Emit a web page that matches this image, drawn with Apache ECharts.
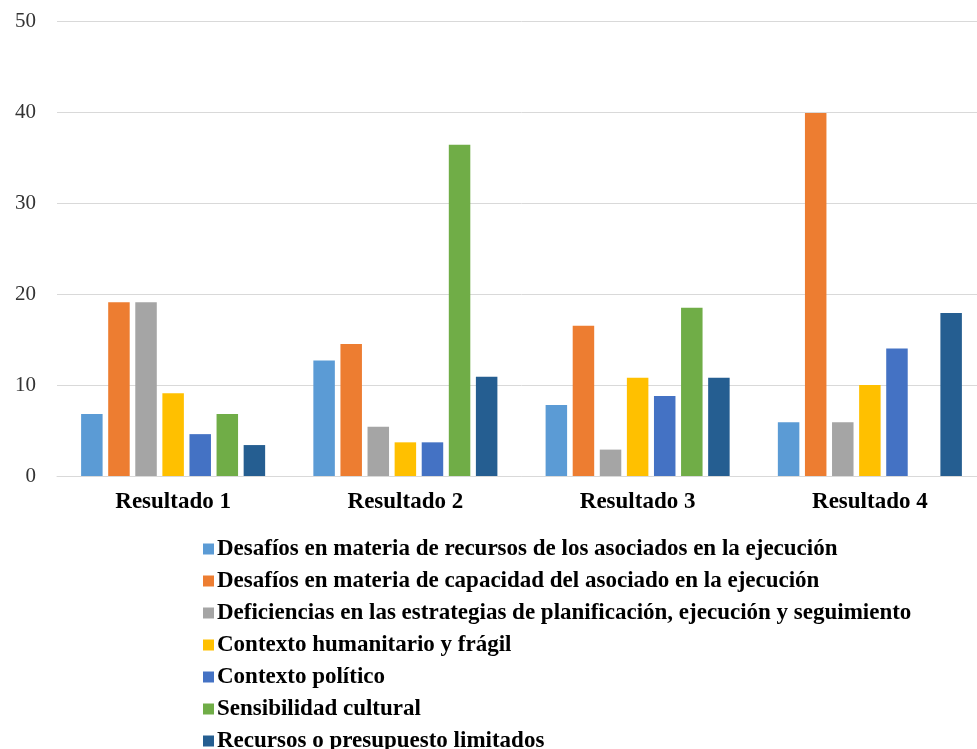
<!DOCTYPE html>
<html>
<head>
<meta charset="utf-8">
<script src="https://cdn.jsdelivr.net/npm/echarts@6/dist/echarts.min.js"></script>
<style>
  html, body { margin: 0; padding: 0; background: #fff; overflow: hidden; }
  #chart { width: 990px; height: 760px; }
</style>
</head>
<body>
<div id="chart"></div>
<script>
// categorías del eje x
const categories = ["Resultado 1", "Resultado 2", "Resultado 3", "Resultado 4"];

// valores por serie
const recursosAsociados = [6.8, 12.7, 7.8, 5.9];
const capacidadAsociado = [19.1, 14.5, 16.5, 39.9];
const deficiencias = [19.1, 5.4, 2.9, 5.9];
const humanitario = [9.1, 3.7, 10.8, 10.0];
const politico = [4.6, 3.7, 8.8, 14.0];
const sensibilidad = [6.8, 36.4, 18.5, 0];
const presupuesto = [3.4, 10.9, 10.8, 17.9];

const seriesNames = [
  "Desafíos en materia de recursos de los asociados en la ejecución",
  "Desafíos en materia de capacidad del asociado en la ejecución",
  "Deficiencias en las estrategias de planificación, ejecución y seguimiento",
  "Contexto humanitario y frágil",
  "Contexto político",
  "Sensibilidad cultural",
  "Recursos o presupuesto limitados",
];
const seriesData = [recursosAsociados, capacidadAsociado, deficiencias, humanitario, politico, sensibilidad, presupuesto];
const colors = ["#5B9BD5", "#ED7D31", "#A5A5A5", "#FFC000", "#4472C4", "#70AD47", "#255E91"];

const chart = echarts.init(document.getElementById("chart"));
const serif = "'Liberation Serif', 'Times New Roman', serif";

const option = {
  animation: false,
  color: colors,
  legend: {
    orient: "vertical",
    left: 203,
    top: 537,
    height: 240,
    padding: 0,
    itemWidth: 11,
    itemHeight: 11,
    itemGap: 8,
    icon: "rect",
    data: seriesNames,
    textStyle: {
      fontFamily: serif,
      fontWeight: "bold",
      fontSize: 23,
      lineHeight: 24,
      color: "#000",
      padding: [0, 0, 0, -2],
    },
  },
  grid: {
    left: 57,
    width: 929,
    top: 21,
    height: 455,
    containLabel: false,
  },
  xAxis: {
    type: "category",
    data: categories,
    axisTick: { show: false },
    axisLine: { lineStyle: { color: "#D9D9D9", width: 1 } },
    axisLabel: {
      margin: 15,
      fontFamily: serif,
      fontWeight: "bold",
      fontSize: 23,
      color: "#000",
    },
  },
  yAxis: {
    type: "value",
    min: 0,
    max: 50,
    interval: 10,
    axisLine: { show: false },
    axisTick: { show: false },
    splitLine: { lineStyle: { color: "#D9D9D9", width: 1 } },
    axisLabel: {
      margin: 21,
      fontFamily: serif,
      fontSize: 21,
      color: "#333",
    },
  },
  series: seriesNames.map((name, i) => ({
    name: name,
    type: "bar",
    barWidth: 21.5,
    barGap: "26%",
    data: seriesData[i],
  })),
};

chart.setOption(option);
</script>
</body>
</html>
